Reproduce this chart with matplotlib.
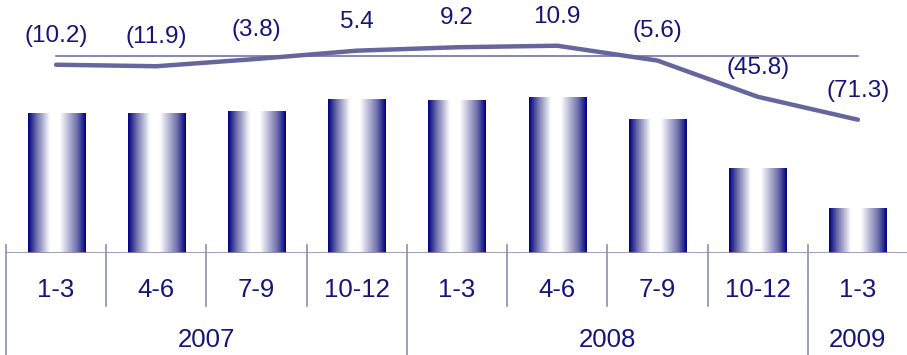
import matplotlib.pyplot as plt
import numpy as np
from matplotlib.colors import LinearSegmentedColormap
from matplotlib.transforms import blended_transform_factory

plt.rcParams['font.family'] = ['Liberation Sans', 'DejaVu Sans']

# quarterly data
quarters = ["1-3", "4-6", "7-9", "10-12", "1-3", "4-6", "7-9", "10-12", "1-3"]
years = ["2007", "2008", "2009"]
year_spans = [(0, 3), (4, 7), (8, 8)]
sales = [140, 140, 142, 154, 153, 156, 134, 85, 45]
growth = [-10.2, -11.9, -3.8, 5.4, 9.2, 10.9, -5.6, -45.8, -71.3]

navy = "#000080"
text_col = "#14147a"
line_col = "#66669c"
sep_col = "#8c8cb4"

fig = plt.figure(figsize=(9.07, 3.55), dpi=100)
ax = fig.add_axes([6 / 907, 102 / 355, 902 / 907, 253 / 355])
ax.axis("off")

# bars with a horizontal navy-white-navy gradient
grad_cmap = LinearSegmentedColormap.from_list(
    "bar_grad", [(0, navy), (0.15, "#7070ac"), (0.38, "#ffffff"),
                 (0.55, "#ffffff"), (0.85, "#7070ac"), (1, navy)])
grad = np.linspace(0, 1, 256).reshape(1, -1)
x = np.arange(len(quarters))
bars = ax.bar(x, sales, width=0.57, color="none", edgecolor="none")
for b in bars:
    x0, w, h = b.get_x(), b.get_width(), b.get_height()
    ax.imshow(grad, cmap=grad_cmap, extent=(x0, x0 + w, 0, h),
              aspect="auto", zorder=2, interpolation="bicubic")
ax.set_xlim(-0.5, len(quarters) - 0.5)
ax.set_ylim(0, 253)

# axis line, separators and category labels
ax.axhline(0, color=sep_col, lw=1.2, zorder=3)
trans = blended_transform_factory(ax.transData, ax.transAxes)
year_edges = [s - 0.5 for s, e in year_spans]
for i in range(len(quarters)):
    xe = i - 0.5
    bottom = -0.403 if xe in year_edges else -0.21
    ax.plot([xe, xe], [0.032, bottom], color=sep_col, lw=1.2,
            transform=trans, clip_on=False)
for i, q in enumerate(quarters):
    ax.text(i, -0.146, q, transform=trans, ha="center", va="center",
            fontsize=18.5, color=text_col)
for yr, (s, e) in zip(years, year_spans):
    ax.text((s + e) / 2, -0.344, yr, transform=trans, ha="center",
            va="center", fontsize=18.5, color=text_col)

# growth rate line on a second scale
ax2 = ax.twinx()
ax2.set_ylim(-219.4, 61.7)
ax2.axis("off")
ax2.plot([0, len(quarters) - 1], [0, 0], color=line_col, lw=1.1)
ax2.plot(x, growth, color=line_col, lw=3.2, solid_capstyle="round")
for xi, g in zip(x, growth):
    label = f"({abs(g):.1f})" if g < 0 else f"{g:.1f}"
    ax2.annotate(label, (xi, g), xytext=(0, 21), textcoords="offset points",
                 ha="center", va="center", fontsize=17.5, color=text_col)

fig.savefig("out.png", dpi=100)
